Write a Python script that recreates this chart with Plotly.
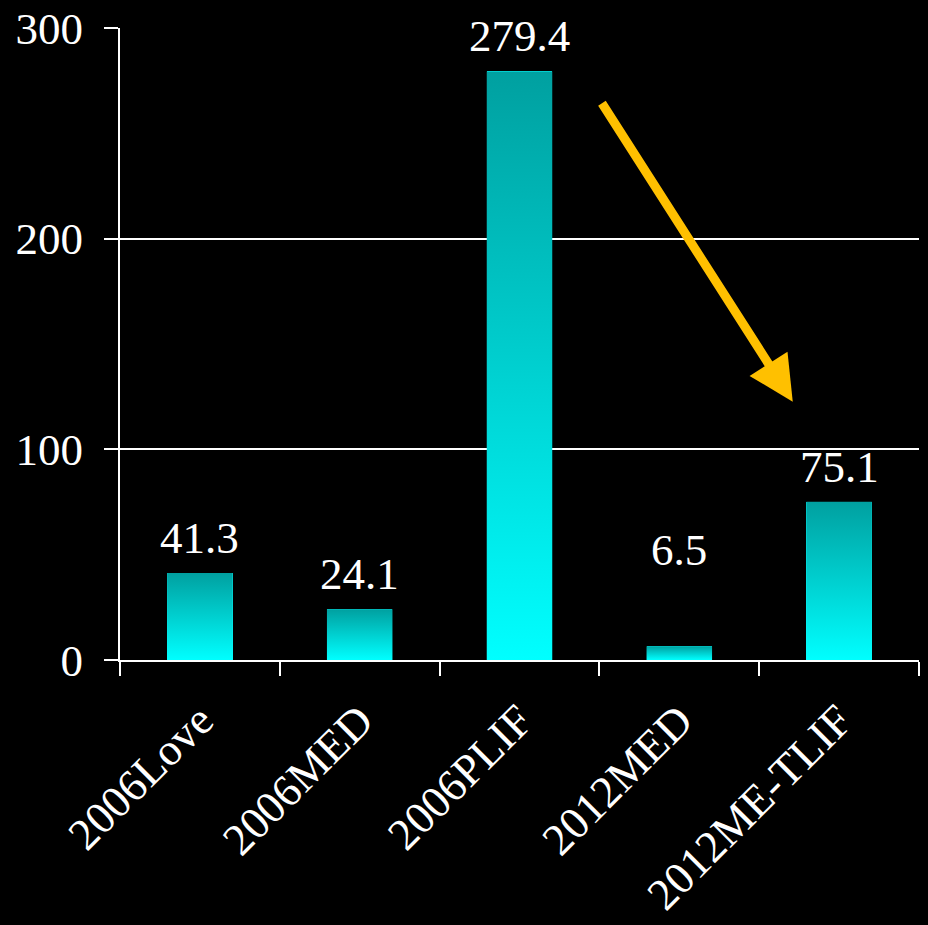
import plotly.graph_objects as go

categories = ["2006Love", "2006MED", "2006PLIF", "2012MED", "2012ME-TLIF"]
values = [41.3, 24.1, 279.4, 6.5, 75.1]
value_labels = ["41.3", "24.1", "279.4", "6.5", "75.1"]
y_ticks = [0, 100, 200, 300]

FONT = "Liberation Serif, Times New Roman, serif"
BAR_W = 0.41
TOP_COLOR = "#00A0A0"
BOTTOM_COLOR = "#00FFFF"

fig = go.Figure()

# base bars (category axis)
fig.add_trace(go.Bar(x=categories, y=values, width=BAR_W,
                     marker=dict(color=BOTTOM_COLOR, line=dict(width=0)),
                     xaxis="x", yaxis="y", showlegend=False, hoverinfo="skip"))

# gradient overlays on a matching linear axis
for i, v in enumerate(values):
    x0, x1 = i - BAR_W / 2, i + BAR_W / 2
    fig.add_trace(go.Scatter(
        x=[x0, x1, x1, x0, x0], y=[0, 0, v, v, 0],
        xaxis="x2", yaxis="y", mode="lines", line=dict(width=0),
        fill="toself",
        fillgradient=dict(type="vertical", start=0, stop=v,
                          colorscale=[[0, BOTTOM_COLOR], [1, TOP_COLOR]]),
        showlegend=False, hoverinfo="skip"))

# value labels
for i, (v, lab) in enumerate(zip(values, value_labels)):
    anchor_y = v if v > 20 else 35.6
    fig.add_annotation(x=i, y=anchor_y, xref="x2", yref="y", text=lab,
                       showarrow=False, yshift=35, yanchor="middle",
                       font=dict(family=FONT, size=45, color="white"))

# arrow
fig.add_annotation(x=3.71, y=122.6, ax=2.51, ay=265, xref="x2", yref="y",
                   axref="x2", ayref="y", text="", showarrow=True,
                   arrowhead=2, arrowsize=1.0, arrowwidth=9, arrowcolor="#FFC000")

fig.update_layout(
    width=928, height=925,
    paper_bgcolor="black", plot_bgcolor="black",
    margin=dict(l=120, r=9, t=28, b=265, autoexpand=False),
    bargap=0,
    xaxis=dict(type="category", categoryorder="array", categoryarray=categories,
               range=[-0.5, 4.5], tickson="boundaries", ticks="outside", ticklen=14,
               tickwidth=2, tickcolor="white", showline=True, linecolor="white",
               linewidth=2, showgrid=False, tickangle=-45, automargin=False,
               ticklabelstandoff=14,
               tickfont=dict(family=FONT, size=45, color="white"), zeroline=False),
    xaxis2=dict(overlaying="x", range=[-0.5, 4.5], visible=False),
    yaxis=dict(range=[0, 300], tickvals=y_ticks, ticks="outside", ticklen=14,
               tickwidth=2, tickcolor="white", showline=True, linecolor="white",
               linewidth=2, showgrid=True, gridcolor="white", gridwidth=2,
               zeroline=False, ticklabelstandoff=12, automargin=False,
               tickfont=dict(family=FONT, size=45, color="white")),
)

fig.write_html("out.html", config={"displayModeBar": False},
               post_script="document.body.style.margin='0';"
                           "document.body.style.background='black';"
                           "document.documentElement.style.background='black';"
                           "document.body.style.overflow='hidden';")
